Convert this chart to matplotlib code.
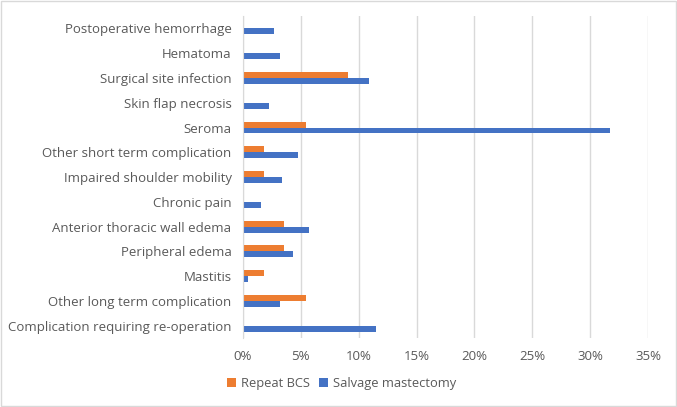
import numpy as np
import matplotlib.pyplot as plt
from matplotlib.patches import Rectangle

categories = [
    "Postoperative hemorrhage",
    "Hematoma",
    "Surgical site infection",
    "Skin flap necrosis",
    "Seroma",
    "Other short term complication",
    "Impaired shoulder mobility",
    "Chronic pain",
    "Anterior thoracic wall edema",
    "Peripheral edema",
    "Mastitis",
    "Other long term complication",
    "Complication requiring re-operation",
]
repeat_bcs = [0, 0, 9.1, 0, 5.5, 1.8, 1.8, 0, 3.6, 3.6, 1.8, 5.5, 0]
salvage = [2.7, 3.2, 10.9, 2.3, 31.7, 4.8, 3.4, 1.6, 5.7, 4.3, 0.5, 3.2, 11.5]
xticks = [0, 5, 10, 15, 20, 25, 30, 35]

orange = "#ED7D31"
blue = "#4472C4"
txt = "#595959"
plt.rcParams['font.family'] = ['Open Sans', 'DejaVu Sans']

fig = plt.figure(figsize=(6.77, 4.07), dpi=100)
ax = fig.add_axes([0.3585, 0.1695, 0.599, 0.791])

y = np.arange(len(categories))
h = 0.24
ax.barh(y - h / 2, repeat_bcs, height=h, color=orange, label="Repeat BCS")
ax.barh(y + h / 2, salvage, height=h, color=blue, label="Salvage mastectomy")

ax.set_ylim(len(categories) - 0.5, -0.5)
ax.set_xlim(0, 35)
ax.set_xticks(xticks)
ax.set_xticklabels([f"{t}%" for t in xticks])
ax.set_yticks(y)
ax.set_yticklabels(categories)
ax.tick_params(axis="both", length=0, colors=txt, labelsize=9.5)
ax.tick_params(axis="x", pad=8.5)
ax.tick_params(axis="y", pad=8)
ax.grid(axis="x", color="#D9D9D9", linewidth=1)
ax.set_axisbelow(True)
for s in ["top", "right", "bottom"]:
    ax.spines[s].set_visible(False)
ax.spines["left"].set_color("#D9D9D9")

leg = fig.legend(loc="center", bbox_to_anchor=(0.505, 0.057), ncol=2, frameon=False,
                 fontsize=9.3, handlelength=0.7, handleheight=0.7, handletextpad=0.4,
                 columnspacing=0.7, labelcolor=txt)

fig.patches.append(Rectangle((0.002, 0.003), 0.996, 0.994, transform=fig.transFigure,
                             fill=False, edgecolor="#D9D9D9", linewidth=1))

fig.savefig("out.png", dpi=100)
